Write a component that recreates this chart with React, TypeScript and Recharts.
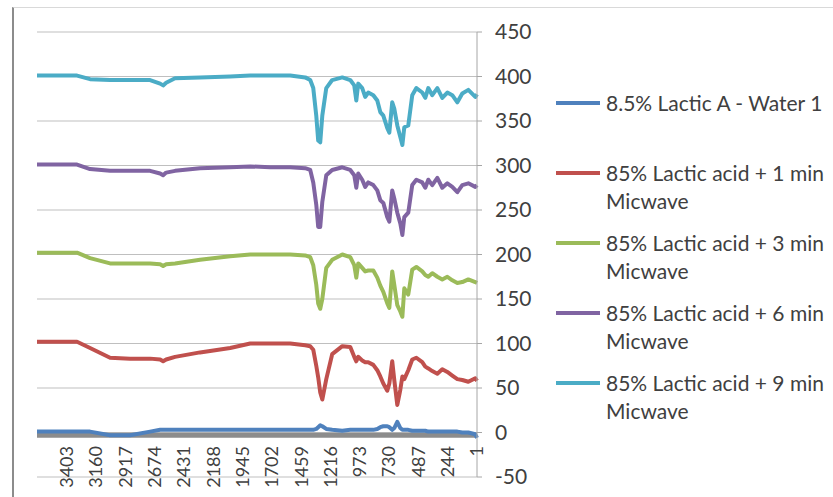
import React from 'react';
import {
  LineChart,
  Line,
  XAxis,
  YAxis,
  CartesianGrid,
  ReferenceLine
} from 'recharts';

// sampled wavenumber positions (category index, right to left)
const wavenumbers = [
  3650, 3318, 3210, 3044, 2878, 2712, 2629, 2604, 2579, 2505,
  2298, 2048, 1882, 1716, 1550, 1426, 1384, 1359, 1334, 1318,
  1301, 1284, 1251, 1202, 1118, 1052, 1019, 1002, 986, 953,
  928, 903, 861, 828, 803, 778, 745, 728, 704, 687,
  662, 637, 620, 604, 571, 538, 504, 455, 430, 405,
  372, 330, 289, 247, 206, 164, 123, 73, 15, 1
];

const water1 = [
  1, 1, 1, -3, -3, 1, 3, 3, 3, 3,
  3, 3, 3, 3, 3, 3, 3, 3, 4, 6,
  8, 7, 4, 3, 2, 3, 3, 3, 3, 3,
  3, 3, 3, 4, 6, 7, 7, 6, 3, 5,
  12, 5, 3, 3, 3, 2, 2, 2, 2, 1,
  1, 1, 1, 1, 1, 1, 0, 0, -2, -6
];

const min1 = [
  102, 102, 95, 84, 83, 83, 82, 80, 82, 85,
  90, 95, 100, 100, 100, 98, 97, 93, 75, 62,
  45, 37, 60, 88, 97, 96, 85, 80, 85, 81,
  79, 79, 76, 70, 63, 55, 47, 55, 80, 59,
  31, 48, 63, 60, 70, 82, 84, 79, 74, 72,
  69, 66, 71, 68, 64, 60, 59, 57, 61, 58
];

const min3 = [
  202, 202, 196, 190, 190, 190, 189, 187, 189, 190,
  194, 198, 200, 200, 200, 199, 197, 188, 166, 145,
  139, 150, 185, 194, 200, 197, 188, 174, 190, 185,
  181, 182, 182, 174, 165, 158, 145, 140, 181, 166,
  143, 136, 130, 162, 155, 183, 186, 181, 177, 175,
  179, 175, 172, 175, 171, 168, 169, 172, 169, 168
];

const min6 = [
  301, 301, 296, 294, 294, 294, 291, 289, 292, 294,
  297, 298, 299, 298, 298, 297, 295, 281, 256, 231,
  231, 259, 289, 295, 298, 295, 289, 275, 291, 284,
  276, 281, 278, 272, 261, 258, 242, 237, 272, 263,
  247, 235, 222, 242, 247, 278, 284, 281, 275, 284,
  278, 286, 275, 280, 276, 270, 278, 280, 276, 278
];

const min9 = [
  401, 401, 397, 396, 396, 396, 392, 390, 393, 398,
  399, 400, 401, 401, 401, 399, 396, 387, 356, 328,
  326, 356, 387, 396, 399, 396, 390, 373, 392, 387,
  377, 382, 379, 373, 360, 356, 342, 337, 371, 364,
  345, 332, 323, 343, 345, 379, 387, 382, 376, 387,
  379, 387, 376, 382, 379, 371, 381, 385, 377, 380
];

const xTicks = [3403, 3160, 2917, 2674, 2431, 2188, 1945, 1702, 1459, 1216, 973, 730, 487, 244, 1];
const yTicks = [-50, 0, 50, 100, 150, 200, 250, 300, 350, 400, 450];

const seriesKeys = ['water1', 'min1', 'min3', 'min6', 'min9'];
const seriesNames = [
  '8.5% Lactic A - Water 1',
  '85% Lactic acid + 1 min Micwave',
  '85% Lactic acid + 3 min Micwave',
  '85% Lactic acid + 6 min Micwave',
  '85% Lactic acid + 9 min Micwave'
];
const seriesColors = ['#4f81bd', '#c0504d', '#9bbb59', '#8064a2', '#4bacc6'];

const data = wavenumbers.map((w, i) => ({
  w,
  water1: water1[i],
  min1: min1[i],
  min3: min3[i],
  min6: min6[i],
  min9: min9[i]
}));

const XTick = ({ x, y, payload }: any) => (
  <g transform={`translate(${x},${y - 31}) rotate(-90)`}>
    <text textAnchor="end" dy="0.35em" fill="#404040" fontSize={18}>
      {payload.value}
    </text>
  </g>
);

export default function App() {
  return (
    <div
      style={{
        position: 'absolute',
        left: 0,
        top: 0,
        width: 833,
        height: 497,
        background: '#fff',
        fontFamily: 'Lato, sans-serif',
        overflow: 'hidden'
      }}
    >
      <div
        style={{
          position: 'absolute',
          left: 12,
          top: 7,
          right: -2,
          bottom: -2,
          borderLeft: '2px solid #8c8c8c',
          borderTop: '1px solid #d9d9d9'
        }}
      />
      <LineChart
        width={833}
        height={497}
        data={data}
        margin={{ top: 32, right: 296, bottom: 0, left: 37 }}
      >
        <CartesianGrid horizontal vertical={false} stroke="#bfbfbf" />
        <XAxis
          dataKey="w"
          type="number"
          domain={[1, 3650]}
          reversed
          ticks={xTicks}
          interval={0}
          axisLine={false}
          tickLine={false}
          tickSize={0}
          tickMargin={0}
          height={20}
          tick={<XTick />}
        />
        <YAxis
          orientation="right"
          domain={[-50, 450]}
          ticks={yTicks}
          interval={0}
          width={60}
          tickSize={5}
          tickMargin={13}
          axisLine={{ stroke: '#a6a6a6' }}
          tickLine={{ stroke: '#a6a6a6' }}
          tick={{ fill: '#404040', fontSize: 21 }}
        />
        <ReferenceLine y={-3} stroke="#8c8c8c" strokeWidth={5} />
        {seriesKeys.map((k, i) => (
          <Line
            key={k}
            dataKey={k}
            name={seriesNames[i]}
            type="linear"
            stroke={seriesColors[i]}
            strokeWidth={4}
            strokeLinejoin="round"
            dot={false}
            isAnimationActive={false}
          />
        ))}
      </LineChart>
      <div style={{ position: 'absolute', left: 556, top: 89 }}>
        {seriesNames.map((name, i) => (
          <div key={name} style={{ display: 'flex', height: 70 }}>
            <span
              style={{
                width: 44,
                height: 4,
                marginTop: 12,
                background: seriesColors[i],
                flex: 'none'
              }}
            />
            <div
              style={{
                marginLeft: 6,
                width: 227,
                fontSize: 21,
                lineHeight: '28px',
                color: '#404040'
              }}
            >
              {name}
            </div>
          </div>
        ))}
      </div>
    </div>
  );
}
